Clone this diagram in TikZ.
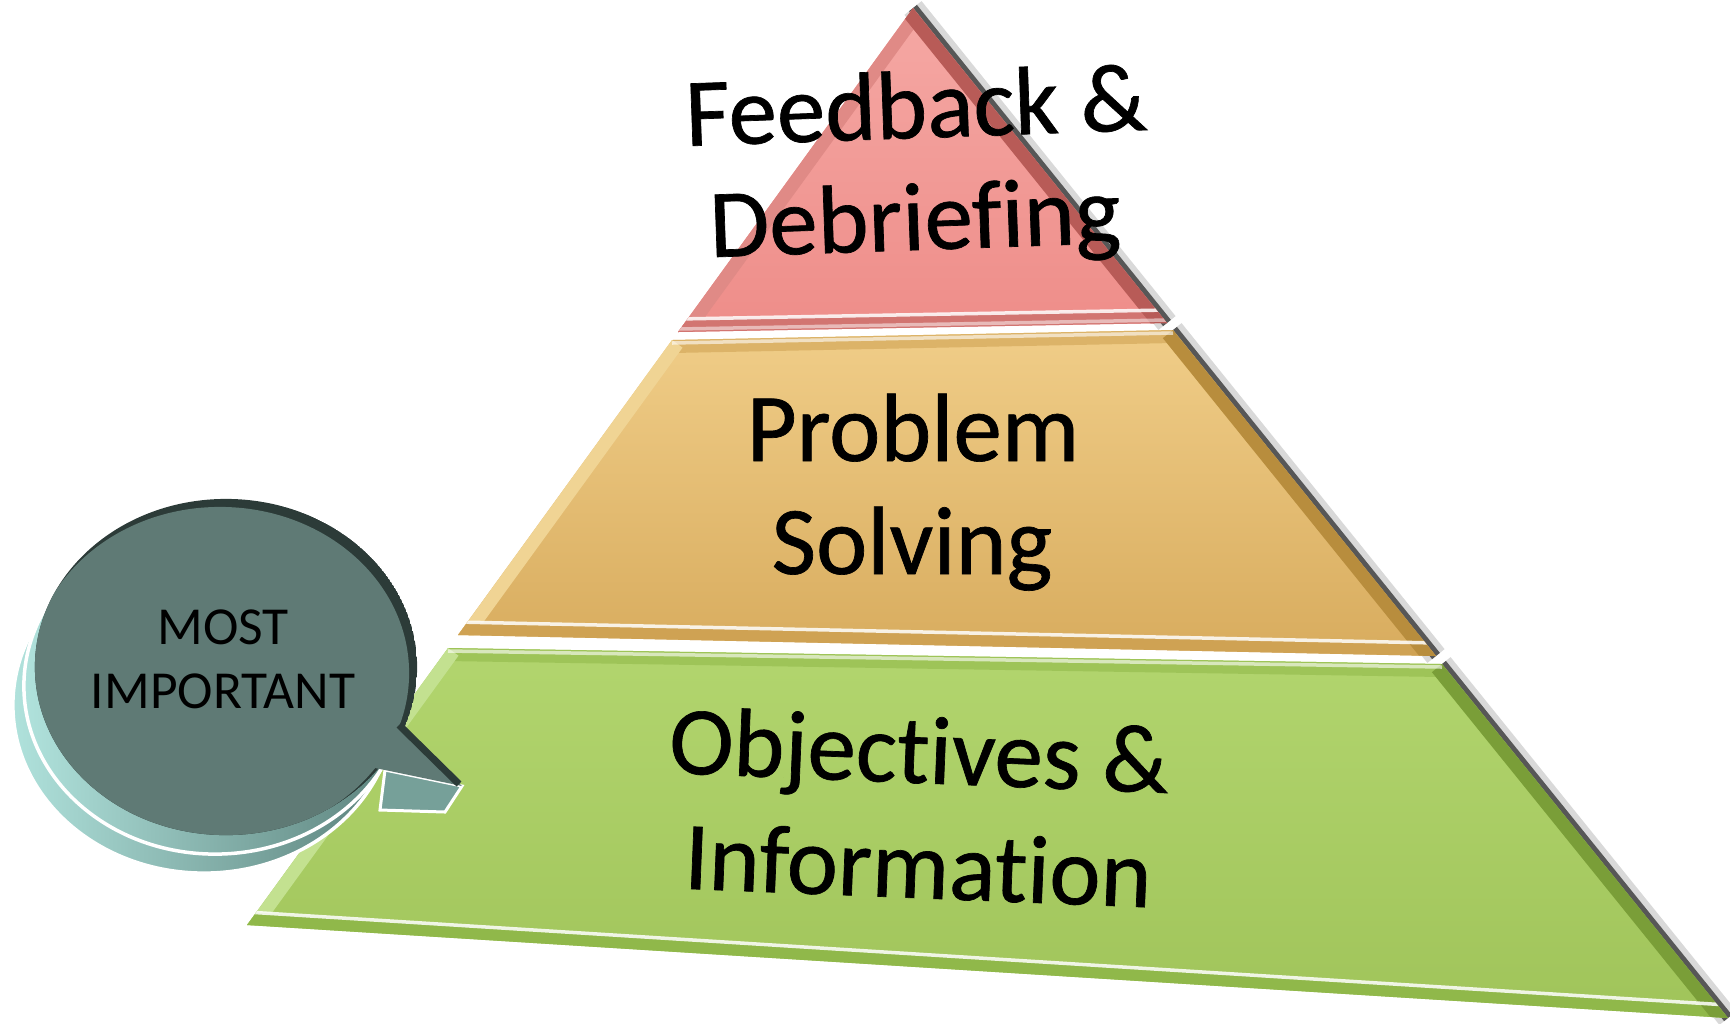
\documentclass[tikz,border=0pt]{standalone}
\usepackage{fontspec}
\setmainfont{Carlito}[Ligatures=NoCommon]
\newfontfamily\heavyfont{Carlito}[Ligatures=NoCommon, FakeBold=0.7]
\usetikzlibrary{calc}
\definecolor{redtop}{HTML}{F5A8A4}
\definecolor{redbot}{HTML}{EE8D89}
\definecolor{redrimL}{HTML}{E08A86}
\definecolor{redrimB}{HTML}{D27571}
\definecolor{redrimR}{HTML}{B85B57}
\definecolor{tantop}{HTML}{F0CD88}
\definecolor{tanbot}{HTML}{D8AC5E}
\definecolor{tanrimL}{HTML}{F0D494}
\definecolor{tanrimB}{HTML}{CFA253}
\definecolor{tanrimR}{HTML}{B88D3D}
\definecolor{grntop}{HTML}{B2D56E}
\definecolor{grnbot}{HTML}{A0C45A}
\definecolor{grnrimL}{HTML}{C3E190}
\definecolor{grnrimB}{HTML}{90B84A}
\definecolor{grnrimR}{HTML}{7A9E38}
\definecolor{bubface}{HTML}{5F7A75}
\definecolor{bubdark}{HTML}{2C3B38}
\definecolor{bubL}{HTML}{B0E2DC}
\definecolor{bubR}{HTML}{5A807A}
\definecolor{bubtail}{HTML}{76A099}
\begin{document}
\begin{tikzpicture}[x=0.01cm, y=-0.01cm,
  rim/.style={line width=0.26cm},
  edgeshadow/.style={line width=0.10cm, black, opacity=.6},
  edgesoft/.style={line width=0.22cm, black, opacity=.15},
  hilite/.style={line width=0.035cm, white, opacity=.85},
  bigtxt/.style={anchor=base, inner sep=0pt, font=\heavyfont\fontsize{27.6}{33}\selectfont},
  smalltxt/.style={anchor=base, inner sep=0pt, font=\fontsize{15.2}{18}\selectfont},
  bubell/.style={x radius=1.91cm, y radius=1.68cm}]
\useasboundingbox (0,0) rectangle (1730,1023);

% ---------- coordinates of the pyramid bands
\coordinate (A) at (913,8);
\coordinate (RL) at (678,332);
\coordinate (RR) at (1167,323);
\coordinate (TL) at (672,340);
\coordinate (TR) at (1173,330);
\coordinate (TBR) at (1436,656);
\coordinate (TBL) at (458,635);
\coordinate (GL) at (448,648);
\coordinate (GR) at (1442,664);
\coordinate (GBR) at (1728,1018);
\coordinate (GBL) at (247,925);

% ---------- shadows on the right edges
\draw[edgesoft] (A) -- (RR);
\draw[edgesoft] (TR) -- (TBR);
\draw[edgesoft] (GR) -- (GBR);
\draw[edgeshadow] (A) -- (RR);
\draw[edgeshadow] (TR) -- (TBR);
\draw[edgeshadow] (GR) -- (GBR);

% ---------- red band
\begin{scope}
  \clip (A) -- (RL) -- (RR) -- cycle;
  \shade[top color=redtop, bottom color=redbot] (A) -- (RL) -- (RR) -- cycle;
  \draw[rim, redrimL] (A) -- (RL);
  \draw[rim, redrimB] (RL) -- (RR);
  \draw[rim, redrimR] (A) -- (RR);
  \draw[hilite] ($(RL)+(0,-13)$) -- ($(RR)+(0,-13)$);
  \draw[hilite, opacity=.5] ($(RL)+(0,-3)$) -- ($(RR)+(0,-3)$);
\end{scope}

% ---------- tan band
\begin{scope}
  \clip (TL) -- (TR) -- (TBR) -- (TBL) -- cycle;
  \shade[top color=tantop, bottom color=tanbot] (TL) -- (TR) -- (TBR) -- (TBL) -- cycle;
  \draw[rim, tanrimB!60!tantop] (TL) -- (TR);
  \draw[rim, tanrimL] (TL) -- (TBL);
  \draw[rim, tanrimB] (TBL) -- (TBR);
  \draw[rim, tanrimR] (TR) -- (TBR);
  \draw[hilite] ($(TBL)+(0,-13)$) -- ($(TBR)+(0,-13)$);
  \draw[hilite, opacity=.6] ($(TL)+(0,3)$) -- ($(TR)+(0,3)$);
\end{scope}

% ---------- green band
\begin{scope}
  \clip (GL) -- (GR) -- (GBR) -- (GBL) -- cycle;
  \shade[top color=grntop, bottom color=grnbot] (GL) -- (GR) -- (GBR) -- (GBL) -- cycle;
  \draw[rim, grnrimB!60!grntop] (GL) -- (GR);
  \draw[rim, grnrimL] (GL) -- (GBL);
  \draw[rim, grnrimB] (GBL) -- (GBR);
  \draw[rim, grnrimR] (GR) -- (GBR);
  \draw[hilite] ($(GBL)+(0,-13)$) -- ($(GBR)+(0,-13)$);
  \draw[hilite, opacity=.6] ($(GL)+(0,3)$) -- ($(GR)+(0,3)$);
\end{scope}

% ---------- pyramid texts
\node[bigtxt, rotate=2] (t1) at (917,138) {Feedback \&};
\node[bigtxt, rotate=2] (t2) at (916,250) {Debriefing};
\node[bigtxt] (t3) at (913,461) {Problem};
\node[bigtxt] (t4) at (912,574) {Solving};
\node[bigtxt, rotate=-2.3] (t5) at (918,783) {Objectives \&};
\node[bigtxt, rotate=-2.3] (t6) at (917,898) {Information};

% ---------- speech bubble: extrusion
\shade[left color=bubL, right color=bubR, draw=white, line width=0.035cm]
  (204,705) ellipse [bubell];
\shade[left color=bubL, right color=bubR, draw=white, line width=0.035cm]
  (215,686) ellipse [bubell];
\fill[bubtail, draw=white, line width=0.03cm]
  (385,770) -- (462,786) -- (445,812) -- (380,810) -- cycle;

% ---------- speech bubble: top face
\begin{scope}
  \clip (226,667) ellipse [bubell];
  \fill[bubdark] (226,667) ellipse [bubell];
  \fill[bubface] (220,673) ellipse [x radius=1.89cm, y radius=1.66cm];
\end{scope}
\fill[bubface] (380,707) -- (462,786) -- (385,770) -- (360,765) -- cycle;
\draw[bubdark, line width=0.07cm] (399,725) -- (459,784);

\node[smalltxt] (m1) at (223,644) {MOST};
\node[smalltxt] (m2) at (223,708) {IMPORTANT};
\end{tikzpicture}
\end{document}
